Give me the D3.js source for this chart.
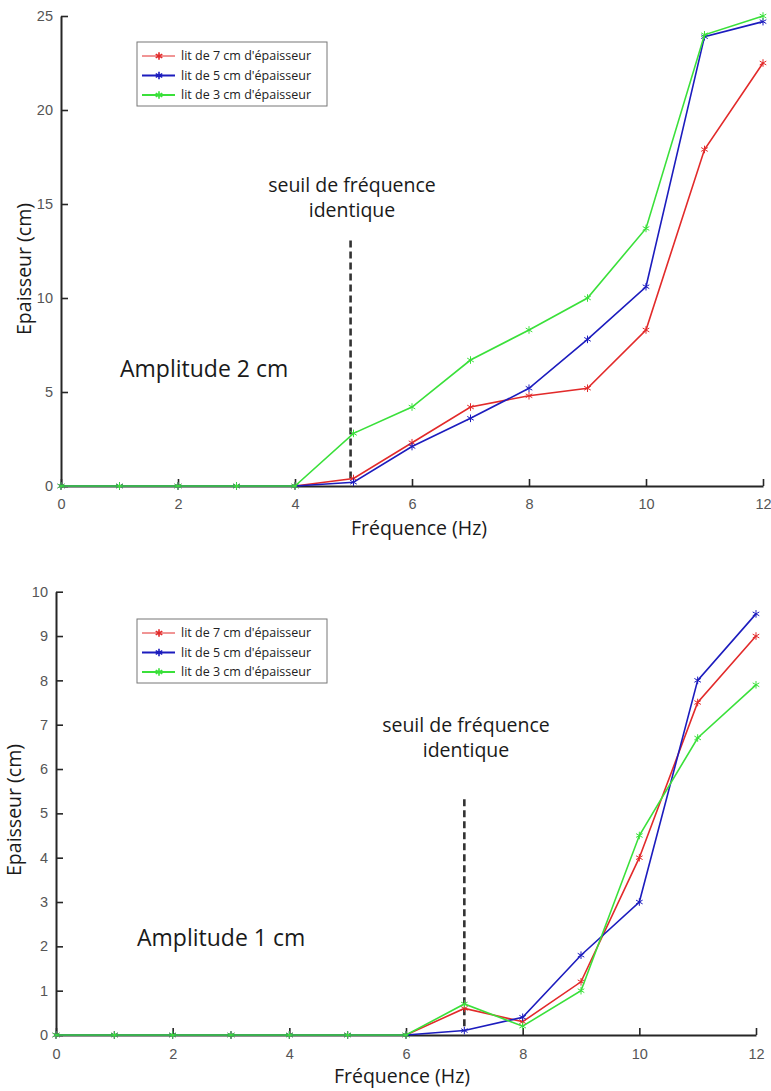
<!DOCTYPE html>
<html>
<head>
<meta charset="utf-8">
<script src="https://cdn.jsdelivr.net/npm/d3@7"></script>
<style>
  body { margin: 0; background: #fff; }
  svg { display: block; font-family: 'Open Sans', sans-serif; }
</style>
</head>
<body>
<svg id="chart" width="771" height="1091"></svg>
<script>
// ---------------------------------------------------------------------------
// DATA
// ---------------------------------------------------------------------------
const frequencies = [0, 1, 2, 3, 4, 5, 6, 7, 8, 9, 10, 11, 12];
const seriesLabels = ["lit de 7 cm d'épaisseur", "lit de 5 cm d'épaisseur", "lit de 3 cm d'épaisseur"];
const xTicks = [0, 2, 4, 6, 8, 10, 12];

// amplitude 2 cm
const amp2Bed7 = [0, 0, 0, 0, 0, 0.4, 2.3, 4.2, 4.8, 5.2, 8.3, 17.9, 22.5];
const amp2Bed5 = [0, 0, 0, 0, 0, 0.2, 2.1, 3.6, 5.2, 7.8, 10.6, 23.9, 24.7];
const amp2Bed3 = [0, 0, 0, 0, 0, 2.8, 4.2, 6.7, 8.3, 10.0, 13.7, 24.0, 25.0];
const amp2YTicks = [0, 5, 10, 15, 20, 25];
const amp2Threshold = { freq: 4.95, from: 0.4, to: 13.1 };

// amplitude 1 cm
const amp1Bed7 = [0, 0, 0, 0, 0, 0, 0, 0.6, 0.3, 1.2, 4.0, 7.5, 9.0];
const amp1Bed5 = [0, 0, 0, 0, 0, 0, 0, 0.1, 0.4, 1.8, 3.0, 8.0, 9.5];
const amp1Bed3 = [0, 0, 0, 0, 0, 0, 0, 0.7, 0.2, 1.0, 4.5, 6.7, 7.9];
const amp1YTicks = [0, 1, 2, 3, 4, 5, 6, 7, 8, 9, 10];
const amp1Threshold = { freq: 7, from: 0.2, to: 5.4 };

const colors = ['#e22a2a', '#1c1cbe', '#3ae03a'];

const svg = d3.select('#chart');
const asterisk = d3.symbol().type(d3.symbolAsterisk).size(40);

// ---------------------------------------------------------------------------
// ONE PANEL
// ---------------------------------------------------------------------------
function drawPanel(opts) {
  const g = svg.append('g');
  const x = d3.scaleLinear().domain([0, 12]).range([opts.left, opts.right]);
  const y = d3.scaleLinear().domain([0, opts.yMax]).range([opts.bottom, opts.top]);

  // axes (ticks inward, like matlab)
  const xAxis = g.append('g')
    .attr('transform', `translate(0,${opts.bottom})`)
    .call(d3.axisBottom(x).tickValues(xTicks).tickSizeInner(-7).tickSizeOuter(0).tickPadding(opts.xPad));
  const yAxis = g.append('g')
    .attr('transform', `translate(${opts.left},0)`)
    .call(d3.axisLeft(y).tickValues(opts.yTicks).tickSizeInner(-7).tickSizeOuter(0).tickPadding(8));

  [xAxis, yAxis].forEach((ax) => {
    ax.select('.domain').attr('stroke', '#262626').attr('stroke-width', 2);
    ax.selectAll('.tick line').attr('stroke', '#262626').attr('stroke-width', 1.6);
    ax.selectAll('.tick text').attr('fill', '#555').attr('font-size', 14.5);
  });

  // threshold line
  g.append('line')
    .attr('x1', x(opts.threshold.freq)).attr('x2', x(opts.threshold.freq))
    .attr('y1', y(opts.threshold.from)).attr('y2', y(opts.threshold.to))
    .attr('stroke', '#333').attr('stroke-width', 2.6)
    .attr('stroke-dasharray', '7,4');

  // series
  const line = d3.line().x((d, i) => x(frequencies[i])).y(d => y(d));
  opts.series.forEach((values, s) => {
    g.append('path')
      .datum(values)
      .attr('d', line)
      .attr('fill', 'none')
      .attr('stroke', colors[s])
      .attr('stroke-width', 1.6);
    g.selectAll(null)
      .data(values)
      .enter()
      .append('path')
        .attr('d', asterisk)
        .attr('transform', (d, i) => `translate(${x(frequencies[i])},${y(d)})`)
        .attr('fill', 'none')
        .attr('stroke', colors[s])
        .attr('stroke-width', 1);
  });

  // legend
  const leg = g.append('g').attr('transform', `translate(${opts.legend[0]},${opts.legend[1]})`);
  leg.append('rect')
    .attr('width', 190).attr('height', 64)
    .attr('fill', '#fff').attr('stroke', '#777').attr('stroke-width', 1);
  seriesLabels.forEach((label, s) => {
    const ly = 14 + s * 19.5;
    leg.append('line')
      .attr('x1', 5).attr('x2', 38).attr('y1', ly).attr('y2', ly)
      .attr('stroke', colors[s]).attr('stroke-width', s === 0 ? 1 : 2);
    leg.append('path')
      .attr('d', asterisk)
      .attr('transform', `translate(22,${ly})`)
      .attr('fill', 'none').attr('stroke', colors[s]).attr('stroke-width', 1.6);
    leg.append('text')
      .attr('x', 44).attr('y', ly).attr('dy', '0.35em')
      .attr('font-size', 12.5).attr('fill', '#222')
      .text(label);
  });

  // annotations
  g.append('text')
    .attr('x', opts.seuilPos[0]).attr('y', opts.seuilPos[1])
    .attr('text-anchor', 'middle').attr('font-size', 19.5).attr('fill', '#1a1a1a')
    .selectAll('tspan')
    .data(['seuil de fréquence', 'identique'])
    .enter()
    .append('tspan')
      .attr('x', opts.seuilPos[0])
      .attr('dy', (d, i) => (i === 0 ? 0 : 25))
      .text(d => d);

  g.append('text')
    .attr('x', opts.ampPos[0]).attr('y', opts.ampPos[1])
    .attr('font-size', 23).attr('fill', '#1a1a1a')
    .text(opts.ampLabel);

  g.append('text')
    .attr('x', opts.xTitlePos[0]).attr('y', opts.xTitlePos[1])
    .attr('text-anchor', 'middle').attr('font-size', 19.5).attr('fill', '#1a1a1a')
    .text('Fréquence (Hz)');

  g.append('text')
    .attr('transform', `translate(${opts.yTitlePos[0]},${opts.yTitlePos[1]}) rotate(-90)`)
    .attr('text-anchor', 'middle').attr('font-size', 19.5).attr('fill', '#1a1a1a')
    .text('Epaisseur (cm)');
}

drawPanel({
  left: 61, right: 763, top: 16, bottom: 486,
  yMax: 25, yTicks: amp2YTicks, xPad: 13,
  series: [amp2Bed7, amp2Bed5, amp2Bed3],
  threshold: amp2Threshold,
  legend: [137, 42],
  seuilPos: [352, 192],
  ampPos: [120, 377],
  ampLabel: 'Amplitude 2 cm',
  xTitlePos: [419, 535],
  yTitlePos: [31, 269],
});

drawPanel({
  left: 56, right: 756, top: 591.7, bottom: 1035,
  yMax: 10, yTicks: amp1YTicks, xPad: 14,
  series: [amp1Bed7, amp1Bed5, amp1Bed3],
  threshold: amp1Threshold,
  legend: [137, 619],
  seuilPos: [466, 732],
  ampPos: [137, 946],
  ampLabel: 'Amplitude 1 cm',
  xTitlePos: [402, 1083],
  yTitlePos: [21, 810],
});
</script>
</body>
</html>
